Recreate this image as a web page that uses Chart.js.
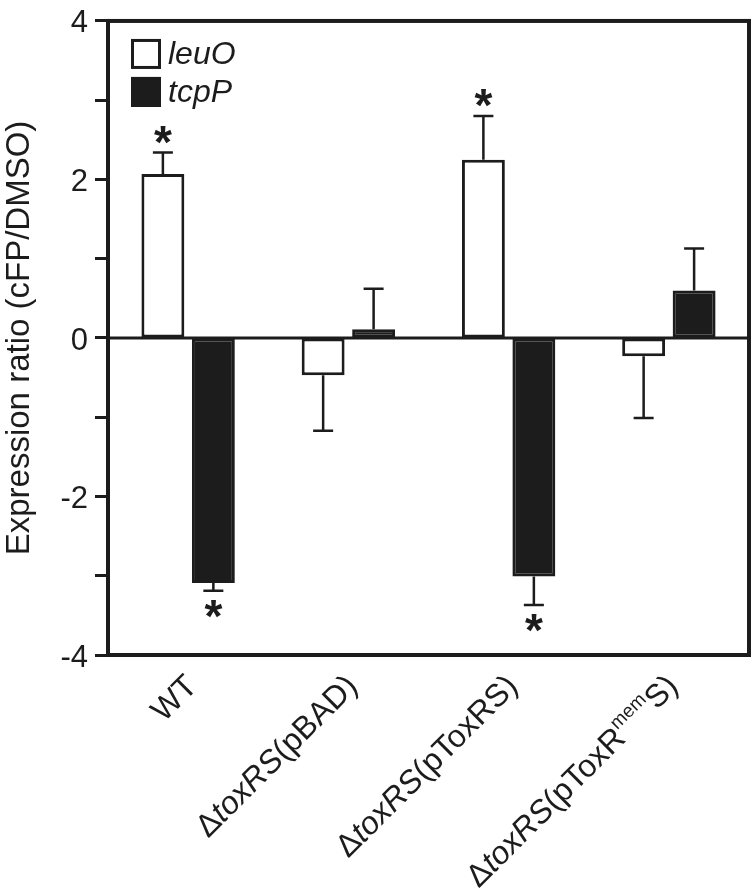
<!DOCTYPE html>
<html lang="en">
<head>
<meta charset="UTF-8" />
<title>Expression ratio (cFP/DMSO)</title>
<script src="https://cdn.jsdelivr.net/npm/chart.js"></script>
<style>
  body { margin: 0; background: #fff; }
  #wrap { width: 752px; height: 890px; }
</style>
</head>
<body>
<div id="wrap"><canvas id="chart" width="752" height="890"></canvas></div>
<script>
// strains on the x axis (<i> = italic, <sup> = superscript)
const categories = ['WT', 'Δ<i>toxRS</i>(pBAD)', 'Δ<i>toxRS</i>(pToxRS)', 'Δ<i>toxRS</i>(pToxR<sup>mem</sup>S)'];
const seriesNames = ['leuO', 'tcpP'];

// mean expression ratios
const leuO = [2.07, -0.47, 2.25, -0.23];
const tcpP = [-3.09, 0.11, -3.01, 0.6];

// error bars (drawn away from zero only)
const leuOErr = [0.27, 0.70, 0.55, 0.78];
const tcpPErr = [0.10, 0.51, 0.36, 0.53];

// significance marks
const leuOStar = [true, false, true, false];
const tcpPStar = [true, false, true, false];

const yMin = -4, yMax = 4;
const yLabelled = [-4, -2, 0, 2, 4];

const INK = '#1c1c1c';
const FONT = "'Liberation Sans', Arial, Helvetica, sans-serif";

function plainLabel(s) {
  return s.replace(/<\/?(i|sup)>/g, '');
}

function parseLabel(s) {
  return s.split(/(<i>.*?<\/i>|<sup>.*?<\/sup>)/).filter(p => p).map(p => {
    if (p.startsWith('<i>')) return { text: p.slice(3, -4), italic: true };
    if (p.startsWith('<sup>')) return { text: p.slice(5, -6), sup: true };
    return { text: p };
  });
}

// zero line, error bars and asterisks
const errorBars = {
  id: 'errorBars',
  afterDatasetsDraw(chart) {
    const { ctx, chartArea } = chart;
    const y = chart.scales.y;
    ctx.save();
    ctx.strokeStyle = INK;
    ctx.lineWidth = 3;
    const y0 = y.getPixelForValue(0);
    ctx.beginPath();
    ctx.moveTo(chartArea.left, y0);
    ctx.lineTo(chartArea.right, y0);
    ctx.stroke();

    ctx.lineWidth = 2.5;
    ctx.fillStyle = INK;
    ctx.font = 'bold 46px ' + FONT;
    ctx.textAlign = 'center';
    const m = ctx.measureText('*');
    const starMid = (m.actualBoundingBoxAscent - m.actualBoundingBoxDescent) / 2;

    chart.data.datasets.forEach((ds, di) => {
      const meta = chart.getDatasetMeta(di);
      meta.data.forEach((bar, i) => {
        const v = ds.data[i];
        const dir = v >= 0 ? 1 : -1;
        const end = y.getPixelForValue(v + dir * ds.errors[i]);
        ctx.beginPath();
        ctx.moveTo(bar.x, bar.y);
        ctx.lineTo(bar.x, end);
        ctx.moveTo(bar.x - 10, end);
        ctx.lineTo(bar.x + 10, end);
        ctx.stroke();
        if (ds.stars[i]) {
          const cy = end - dir * 18;
          ctx.fillText('*', bar.x, cy + starMid);
        }
      });
    });
    ctx.restore();
  }
};

// frame, legend and rotated category labels
const decorations = {
  id: 'decorations',
  afterDraw(chart) {
    const { ctx, chartArea } = chart;
    ctx.save();
    ctx.strokeStyle = INK;
    ctx.lineWidth = 4;
    ctx.strokeRect(chartArea.left, chartArea.top, chartArea.right - chartArea.left, chartArea.bottom - chartArea.top);

    // legend
    chart.data.datasets.forEach((ds, i) => {
      const bx = chartArea.left + 23, by = chartArea.top + 18 + i * 38;
      ctx.lineWidth = 3;
      ctx.fillStyle = ds.backgroundColor;
      ctx.fillRect(bx, by, 30, 30);
      ctx.strokeStyle = INK;
      ctx.strokeRect(bx + 1.5, by + 1.5, 27, 27);
      ctx.fillStyle = INK;
      ctx.font = 'italic 32px ' + FONT;
      ctx.textAlign = 'left';
      ctx.textBaseline = 'alphabetic';
      ctx.fillText(ds.label, bx + 37, by + 25);
    });

    // x labels
    const xs = chart.scales.x;
    categories.forEach((lab, i) => {
      const segs = parseLabel(lab).map(s => {
        s.font = s.sup ? '19px ' + FONT : (s.italic ? 'italic 32px ' : '32px ') + (s.sup ? '' : FONT);
        ctx.font = s.font;
        s.w = ctx.measureText(s.text).width;
        return s;
      });
      const total = segs.reduce((a, s) => a + s.w, 0);
      ctx.save();
      ctx.translate(xs.getPixelForValue(i) + 3, chartArea.bottom + 25);
      ctx.rotate(-Math.PI / 4);
      ctx.fillStyle = INK;
      ctx.textAlign = 'left';
      ctx.textBaseline = 'alphabetic';
      let x = -total;
      segs.forEach(s => {
        ctx.font = s.font;
        ctx.fillText(s.text, x, s.sup ? 11 - 14 : 11);
        x += s.w;
      });
      ctx.restore();
    });
    ctx.restore();
  }
};

new Chart(document.getElementById('chart'), {
  type: 'bar',
  data: {
    labels: categories.map(plainLabel),
    datasets: [
      {
        label: seriesNames[0],
        data: leuO,
        errors: leuOErr,
        stars: leuOStar,
        backgroundColor: '#ffffff',
        borderColor: INK,
        borderWidth: 3,
        borderSkipped: false
      },
      {
        label: seriesNames[1],
        data: tcpP,
        errors: tcpPErr,
        stars: tcpPStar,
        backgroundColor: INK,
        borderColor: INK,
        borderWidth: 3,
        borderSkipped: false
      }
    ]
  },
  options: {
    responsive: false,
    animation: false,
    layout: { padding: { top: 15, right: 3, left: 0, bottom: 0 } },
    datasets: {
      bar: { categoryPercentage: 0.63, barPercentage: 0.85 }
    },
    plugins: {
      legend: { display: false },
      tooltip: { enabled: false }
    },
    scales: {
      x: {
        grid: { display: false },
        border: { display: false },
        ticks: { display: false },
        afterFit(scale) { scale.height = 235; }
      },
      y: {
        min: yMin,
        max: yMax,
        border: { display: false },
        grid: {
          drawOnChartArea: false,
          drawTicks: true,
          tickLength: 13,
          tickWidth: 3,
          tickColor: INK
        },
        ticks: {
          stepSize: 1,
          padding: 7,
          labelOffset: 3,
          color: INK,
          font: { family: FONT, size: 31, lineHeight: 0.9 },
          callback: v => (yLabelled.includes(v) ? String(v) : '')
        },
        title: {
          display: true,
          text: 'Expression ratio (cFP/DMSO)',
          color: INK,
          padding: { top: 0, bottom: 0 },
          font: { family: FONT, size: 33 }
        },
        afterFit(scale) { scale.width = 108; }
      }
    }
  },
  plugins: [errorBars, decorations]
});
</script>
</body>
</html>
